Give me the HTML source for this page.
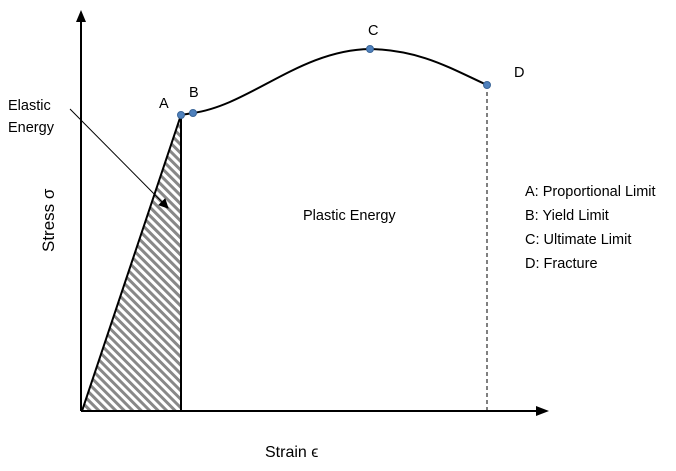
<!DOCTYPE html>
<html><head><style>body{margin:0;background:#fff}svg{display:block}text{font-family:"Liberation Sans",sans-serif;font-size:14.5px;fill:#000}</style></head><body>
<svg width="676" height="471" viewBox="0 0 676 471">
<defs>
<pattern id="h" patternUnits="userSpaceOnUse" width="6" height="6" patternTransform="rotate(-45)">
<rect x="0" y="0" width="3" height="6" fill="#888"/>
</pattern>
<marker id="ar" markerWidth="10" markerHeight="10" refX="9" refY="5" orient="auto" markerUnits="userSpaceOnUse"><path d="M0,0 L10,5 L0,10 z" fill="#000"/></marker>
</defs>
<polygon points="82,411 181,115 181,411" fill="url(#h)"/>
<line x1="81" y1="411" x2="81" y2="20" stroke="#000" stroke-width="2"/>
<path d="M76,22 L81,10 L86,22 z" fill="#000"/>
<line x1="81" y1="411" x2="538" y2="411" stroke="#000" stroke-width="2"/>
<path d="M536,406 L549,411 L536,416 z" fill="#000"/>
<polyline points="82,411 181,115 181,411" fill="none" stroke="#000" stroke-width="2"/>
<path d="M181,115 L193,113 C250,105 300,50 370,49 C420,50 450,68 487,85" fill="none" stroke="#000" stroke-width="2"/>
<line x1="487" y1="85" x2="487" y2="411" stroke="#000" stroke-width="1" stroke-dasharray="4,3"/>
<line x1="70" y1="109" x2="168" y2="208" stroke="#000" stroke-width="1" marker-end="url(#ar)"/>
<g fill="#4f81bd" stroke="#3a6598" stroke-width="1"><circle cx="181" cy="115" r="3.5"/><circle cx="193" cy="113" r="3.5"/><circle cx="370" cy="49" r="3.5"/><circle cx="487" cy="85" r="3.5"/></g>
<text x="159" y="108">A</text><text x="189" y="97">B</text><text x="368" y="35">C</text><text x="514" y="77">D</text>
<text x="8" y="110">Elastic</text><text x="8" y="132">Energy</text>
<text x="303" y="220">Plastic Energy</text>
<text x="525" y="196">A: Proportional Limit</text>
<text x="525" y="220">B: Yield Limit</text>
<text x="525" y="244">C: Ultimate Limit</text>
<text x="525" y="268">D: Fracture</text>
<text x="265" y="457" style="font-size:16px">Strain ϵ</text>
<text transform="translate(54,252) rotate(-90)" style="font-size:17px">Stress σ</text>
</svg>
</body></html>
